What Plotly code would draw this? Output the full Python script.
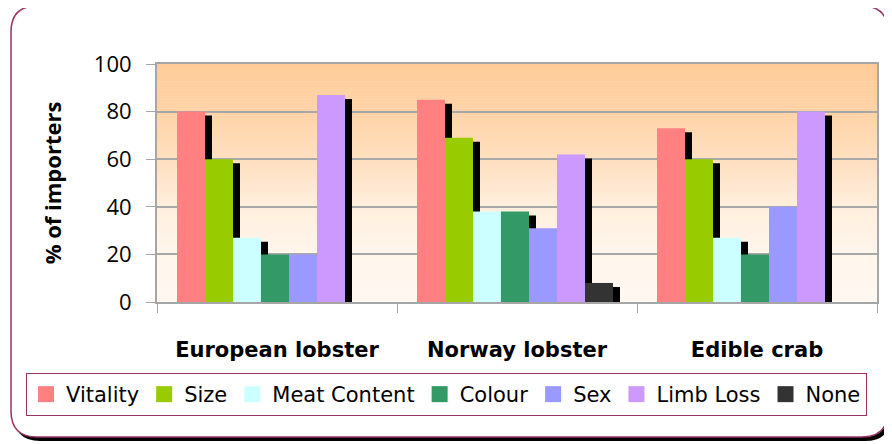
import plotly.graph_objects as go

# 데이터
categories = ["European lobster", "Norway lobster", "Edible crab"]
series_names = ["Vitality", "Size", "Meat Content", "Colour", "Sex", "Limb Loss", "None"]
vitality = [80, 85, 73]
size = [60, 69, 60]
meat_content = [27, 38, 27]
colour = [20, 38, 20]
sex = [20, 31, 40]
limb_loss = [87, 62, 80]
none = [0, 8, 0]
y_ticks = [0, 20, 40, 60, 80, 100]

series_values = [vitality, size, meat_content, colour, sex, limb_loss, none]
series_colors = ["#FF8080", "#99CC00", "#CCFFFF", "#339966", "#9999FF", "#CC99FF", "#333333"]

# 페이지 기본 여백(8px) 보정
OFS = 8
W_FIG, H_FIG = 892 - OFS, 444 - OFS
# 플롯 영역 (페이지 픽셀 기준)
L, R, T, B = 157, 877, 64, 302
PW, PH = R - L, B - T


def px(x):
    return (x - L) / PW


def py(y):
    return (B - y) / PH


bar_w = 28 / 240
first_off = -0.5 + 20 / 240
shadow_dx = 7 / 240
shadow_dy = 4 * 100 / PH

fig = go.Figure()

# 그림자 (검정, 오른쪽 아래로 이동)
for i, vals in enumerate(series_values):
    fig.add_trace(
        go.Bar(
            x=categories,
            y=vals,
            base=-shadow_dy,
            width=bar_w,
            offset=first_off + i * bar_w + shadow_dx,
            marker=dict(color="black", line=dict(width=0)),
            showlegend=False,
            hoverinfo="skip",
            cliponaxis=False,
        )
    )

# 막대
for i, (name, vals) in enumerate(zip(series_names, series_values)):
    fig.add_trace(
        go.Bar(
            x=categories,
            y=vals,
            width=bar_w,
            offset=first_off + i * bar_w,
            marker=dict(color=series_colors[i], line=dict(width=0)),
            name=name,
            legendgroup=name,
            showlegend=False,
        )
    )

# 범례용 (큰 사각형 마커)
for i, name in enumerate(series_names):
    fig.add_trace(
        go.Scatter(
            x=[None],
            y=[None],
            mode="markers",
            marker=dict(symbol="square", size=16, color=series_colors[i]),
            name=name,
            legendgroup=name,
        )
    )


def rounded(x0, y0, x1, y1, r):
    pts = [
        ("M", [(x0 + r, y0)]),
        ("L", [(x1 - r, y0)]),
        ("Q", [(x1, y0), (x1, y0 + r)]),
        ("L", [(x1, y1 - r)]),
        ("Q", [(x1, y1), (x1 - r, y1)]),
        ("L", [(x0 + r, y1)]),
        ("Q", [(x0, y1), (x0, y1 - r)]),
        ("L", [(x0, y0 + r)]),
        ("Q", [(x0, y0), (x0 + r, y0)]),
    ]
    path = ""
    for cmd, ps in pts:
        path += cmd + " ".join(f"{px(a):.5f},{py(b):.5f}" for a, b in ps) + " "
    return path + "Z"


shapes = [
    dict(type="path", xref="paper", yref="paper", layer="below",
         path=rounded(14, 10, 891, 441, 26), fillcolor="black", line=dict(width=0)),
    dict(type="path", xref="paper", yref="paper", layer="below",
         path=rounded(11, 6, 888, 437, 26), fillcolor="white",
         line=dict(color="#993366", width=1.5)),
]

# 배경 그라데이션
stops = [(0, (255, 248, 241)), (20, (255, 246, 236)), (40, (255, 238, 221)),
         (60, (255, 223, 192)), (80, (255, 211, 167)), (100, (255, 204, 153))]
n_strips = 80
for k in range(n_strips):
    v0 = 100 * k / n_strips
    v1 = 100 * (k + 1) / n_strips
    vm = (v0 + v1) / 2
    for j in range(len(stops) - 1):
        if stops[j][0] <= vm <= stops[j + 1][0]:
            t = (vm - stops[j][0]) / (stops[j + 1][0] - stops[j][0])
            c = [round(a + (b - a) * t) for a, b in zip(stops[j][1], stops[j + 1][1])]
            break
    shapes.append(dict(type="rect", xref="paper", yref="y", layer="below",
                       x0=0, x1=1, y0=v0, y1=v1 + 0.2,
                       fillcolor=f"rgb({c[0]},{c[1]},{c[2]})", line=dict(width=0)))

fig.update_layout(
    width=W_FIG,
    height=H_FIG,
    margin=dict(l=L - OFS, r=W_FIG - (R - OFS), t=T - OFS, b=H_FIG - (B - OFS), pad=0),
    barmode="overlay",
    paper_bgcolor="white",
    plot_bgcolor="rgba(0,0,0,0)",
    shapes=shapes,
    showlegend=True,
    legend=dict(
        orientation="h",
        x=px(26),
        y=py(373),
        xanchor="left",
        yanchor="top",
        bordercolor="#993366",
        borderwidth=1,
        bgcolor="rgba(0,0,0,0)",
        font=dict(family="DejaVu Sans", size=21, color="black"),
        itemwidth=30,
        tracegroupgap=0,
    ),
)

fig.update_yaxes(
    range=[0, 100],
    tickvals=y_ticks,
    ticks="outside",
    ticklen=9,
    tickcolor="#A6A6A6",
    tickfont=dict(family="Open Sans", size=22, color="black"),
    ticklabelstandoff=10,
    showgrid=True,
    gridcolor="#A8A8A8",
    gridwidth=1.5,
    showline=True,
    linecolor="#A6A6A6",
    linewidth=2,
    mirror=True,
    zeroline=False,
    title=dict(text="% of importers",
               font=dict(family="Open Sans", size=22, color="black", weight="bold"),
               standoff=26),
)

fig.update_xaxes(
    ticks="outside",
    tickson="boundaries",
    ticklen=9,
    tickcolor="#A6A6A6",
    tickfont=dict(family="DejaVu Sans", size=21, color="black", weight="bold"),
    ticklabelstandoff=28,
    showgrid=False,
    showline=True,
    linecolor="#A6A6A6",
    linewidth=2,
    mirror=True,
)

fig.write_html("out.html")
